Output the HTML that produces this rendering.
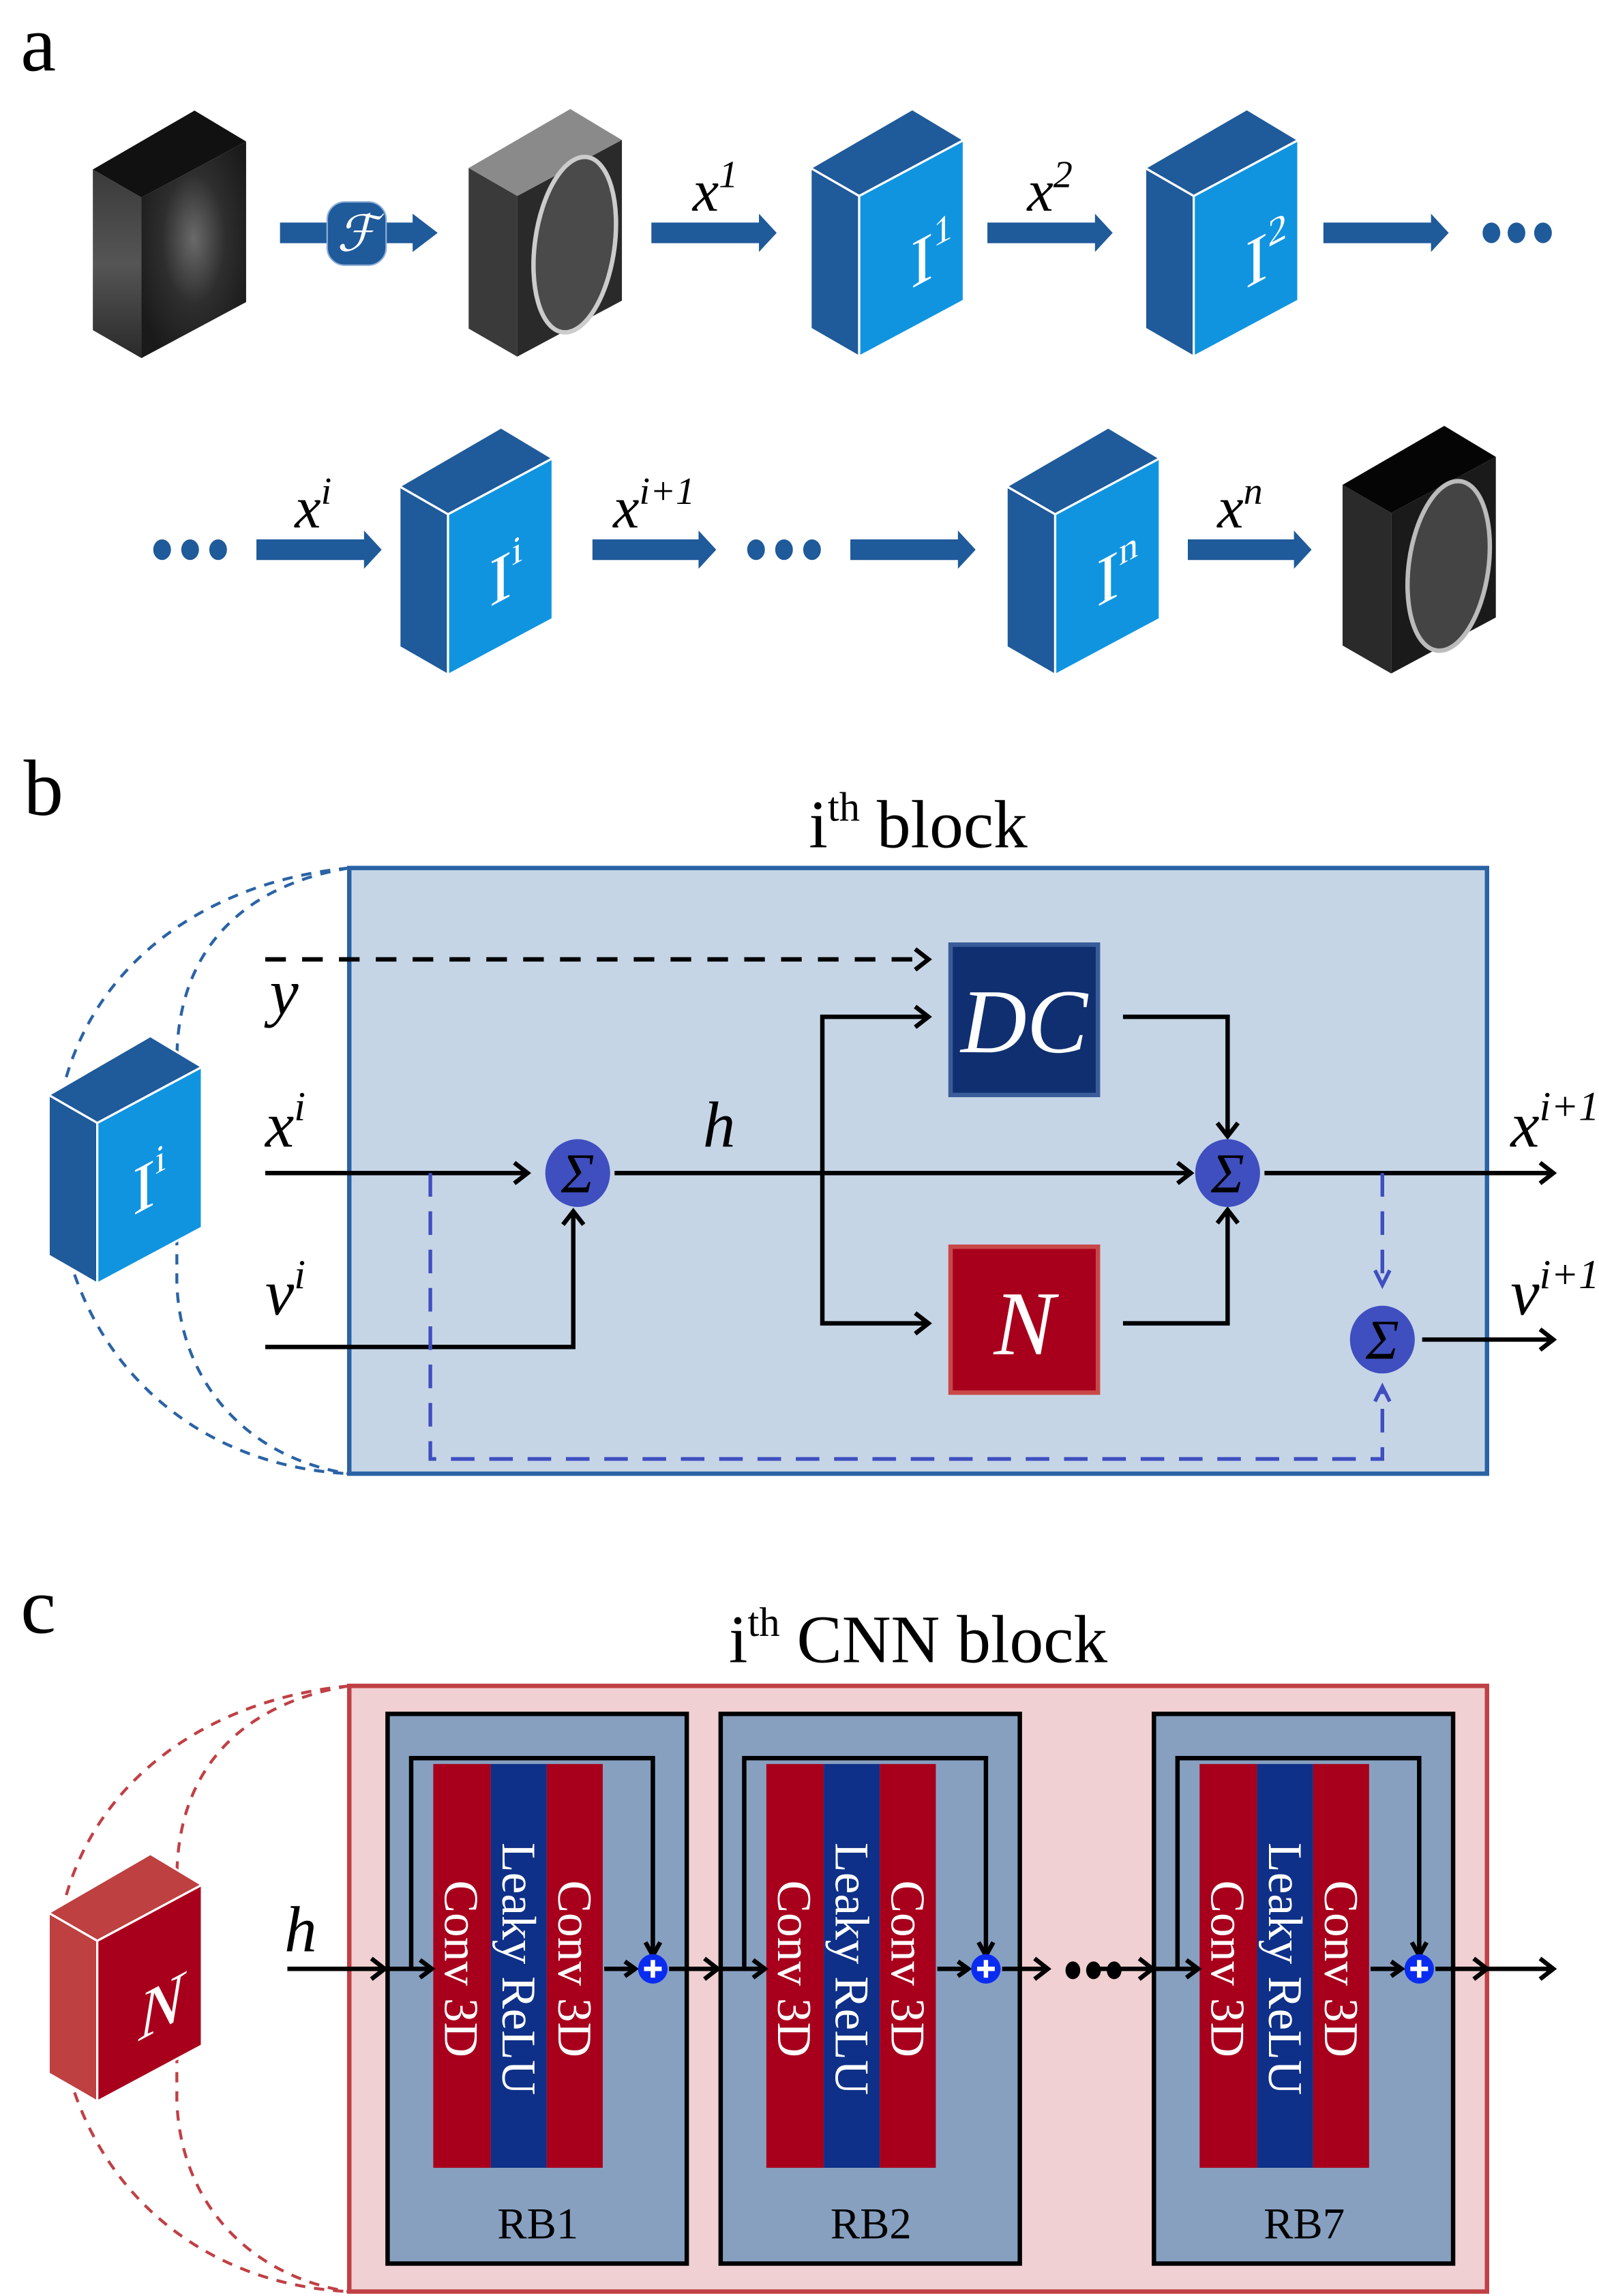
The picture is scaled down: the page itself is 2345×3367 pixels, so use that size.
<!DOCTYPE html>
<html><head><meta charset="utf-8"><style>
html,body{margin:0;padding:0;background:#fff;}
svg{display:block;}
text{font-family:"Liberation Serif",serif;}
</style></head><body>
<svg width="2345" height="3367" viewBox="0 0 1085 1558" preserveAspectRatio="none" xmlns="http://www.w3.org/2000/svg">
<defs>
<g id="bcube">
<polygon points="69,0 0,40 33,59 104,21" fill="#1f5a9a" stroke="#fff" stroke-width="1.5"/>
<polygon points="0,40 33,59 33,168 0,149" fill="#1f5a9a" stroke="#fff" stroke-width="1.5"/>
<polygon points="33,59 104,21 104,130 33,168" fill="#1094e0" stroke="#fff" stroke-width="1.5"/>
</g>
<g id="rcube">
<polygon points="69,0 0,40 33,59 104,21" fill="#be4040" stroke="#fff" stroke-width="1.5"/>
<polygon points="0,40 33,59 33,168 0,149" fill="#be4040" stroke="#fff" stroke-width="1.5"/>
<polygon points="33,59 104,21 104,130 33,168" fill="#a8001c" stroke="#fff" stroke-width="1.5"/>
</g>
<radialGradient id="ks" cx="0.5" cy="0.45" r="0.6"><stop offset="0" stop-color="#6a6a6a"/><stop offset="0.5" stop-color="#2e2e2e"/><stop offset="1" stop-color="#1a1a1a"/></radialGradient>
<linearGradient id="side" x1="0" y1="0" x2="0" y2="1"><stop offset="0" stop-color="#3a3a3a"/><stop offset="0.5" stop-color="#555"/><stop offset="1" stop-color="#2a2a2a"/></linearGradient>
<marker id="ah" viewBox="0 0 12 12" refX="10" refY="6" markerWidth="5" markerHeight="5" orient="auto" markerUnits="userSpaceOnUse" style="overflow:visible">
</marker>
</defs>

<!-- Panel a -->
<text x="14" y="48" font-size="54">a</text>

<!-- k-space cube -->
<g transform="translate(63,75)">
<polygon points="69,0 0,40 33,59 104,21" fill="#111"/>
<polygon points="0,40 33,59 33,168 0,149" fill="url(#side)"/>
<polygon points="33,59 104,21 104,130 33,168" fill="url(#ks)"/>
</g>
<!-- F arrow -->
<polygon points="190,151 280,151 280,145 297,158 280,171 280,165 190,165" fill="#1f5a9a"/>
<rect x="222" y="137" width="40" height="43" rx="12" fill="#1f5a9a" stroke="#8fb0d8" stroke-width="1"/>
<text x="242" y="170" font-size="34" fill="#fff" font-style="italic" text-anchor="middle">ℱ</text>
<!-- brain cube -->
<g transform="translate(318,74)">
<polygon points="69,0 0,40 33,59 104,21" fill="#8a8a8a"/>
<polygon points="0,40 33,59 33,168 0,149" fill="#3a3a3a"/>
<polygon points="33,59 104,21 104,130 33,168" fill="#2a2a2a"/>
<ellipse cx="72" cy="92" rx="27" ry="60" fill="#4a4a4a" stroke="#ccc" stroke-width="3" transform="rotate(8 72 92)"/>
</g>
<!-- row1 arrows -->
<polygon points="442,151 515,151 515,145 527,158 515,171 515,165 442,165" fill="#1f5a9a"/>
<polygon points="670,151 743,151 743,145 755,158 743,171 743,165 670,165" fill="#1f5a9a"/>
<polygon points="898,151 971,151 971,145 983,158 971,171 971,165 898,165" fill="#1f5a9a"/>
<ellipse cx="1012" cy="158" rx="6" ry="7" fill="#1f5a9a"/>
<ellipse cx="1029" cy="158" rx="6" ry="7" fill="#1f5a9a"/>
<ellipse cx="1047" cy="158" rx="6" ry="7" fill="#1f5a9a"/>
<text x="470" y="143" font-size="40" font-style="italic">x<tspan font-size="26" dy="-16">1</tspan></text>
<text x="697" y="143" font-size="40" font-style="italic">x<tspan font-size="26" dy="-16">2</tspan></text>

<use href="#bcube" x="550" y="74"/>
<use href="#bcube" x="777" y="74"/>
<text transform="translate(618,196) skewY(-28)" font-size="46" fill="#fff">I<tspan font-size="26" dy="-20">1</tspan></text>
<text transform="translate(845,196) skewY(-28)" font-size="46" fill="#fff">I<tspan font-size="26" dy="-20">2</tspan></text>

<!-- row2 -->
<ellipse cx="110" cy="373" rx="6" ry="7" fill="#1f5a9a"/>
<ellipse cx="129" cy="373" rx="6" ry="7" fill="#1f5a9a"/>
<ellipse cx="148" cy="373" rx="6" ry="7" fill="#1f5a9a"/>
<polygon points="174,366 247,366 247,360 259,373 247,386 247,380 174,380" fill="#1f5a9a"/>
<polygon points="402,366 474,366 474,360 486,373 474,386 474,380 402,380" fill="#1f5a9a"/>
<ellipse cx="513" cy="373" rx="6" ry="7" fill="#1f5a9a"/>
<ellipse cx="532" cy="373" rx="6" ry="7" fill="#1f5a9a"/>
<ellipse cx="551" cy="373" rx="6" ry="7" fill="#1f5a9a"/>
<polygon points="577,366 650,366 650,360 662,373 650,386 650,380 577,380" fill="#1f5a9a"/>
<polygon points="806,366 878,366 878,360 890,373 878,386 878,380 806,380" fill="#1f5a9a"/>
<text x="200" y="358" font-size="40" font-style="italic">x<tspan font-size="26" dy="-16">i</tspan></text>
<text x="416" y="358" font-size="40" font-style="italic">x<tspan font-size="26" dy="-16">i+1</tspan></text>
<text x="826" y="358" font-size="40" font-style="italic">x<tspan font-size="26" dy="-16">n</tspan></text>
<use href="#bcube" x="271" y="290"/>
<use href="#bcube" x="683" y="290"/>
<text transform="translate(332,412) skewY(-28)" font-size="46" fill="#fff">I<tspan font-size="26" dy="-20">i</tspan></text>
<text transform="translate(744,412) skewY(-28)" font-size="46" fill="#fff">I<tspan font-size="26" dy="-20">n</tspan></text>
<!-- final brain cube -->
<g transform="translate(911,289)">
<polygon points="69,0 0,40 33,59 104,21" fill="#050505"/>
<polygon points="0,40 33,59 33,168 0,149" fill="#2a2a2a"/>
<polygon points="33,59 104,21 104,130 33,168" fill="#1a1a1a"/>
<ellipse cx="72" cy="95" rx="27" ry="58" fill="#444" stroke="#bbb" stroke-width="3" transform="rotate(8 72 95)"/>
</g>

<!-- Panel b -->
<text x="16" y="553" font-size="54">b</text>
<text x="623" y="575" font-size="46" text-anchor="middle">i<tspan font-size="28" dy="-18">th</tspan><tspan dy="18"> block</tspan></text>
<path d="M237,589 C120,600 30,680 38,800 C45,920 130,995 237,1000" fill="none" stroke="#2a63a5" stroke-width="2" stroke-dasharray="7,6"/>
<path d="M237,589 C170,600 120,640 120,720 L120,870 C122,940 170,990 237,1000" fill="none" stroke="#2a63a5" stroke-width="2" stroke-dasharray="7,6"/>
<rect x="237" y="589" width="772" height="411" fill="#c6d5e6" stroke="#2a63a5" stroke-width="3"/>
<use href="#bcube" x="33" y="703"/>
<text transform="translate(90,825) skewY(-28)" font-size="46" fill="#fff">I<tspan font-size="26" dy="-20">i</tspan></text>

<rect x="645" y="641" width="100" height="102" fill="#0f2f70" stroke="#3a5c9a" stroke-width="3"/>
<text x="695" y="714" font-size="62" font-style="italic" fill="#fff" text-anchor="middle">DC</text>
<rect x="645" y="846" width="100" height="99" fill="#a8001c" stroke="#c84848" stroke-width="3"/>
<text x="695" y="919" font-size="62" font-style="italic" fill="#fff" text-anchor="middle">N</text>

<g stroke="#000" stroke-width="3" fill="none" stroke-linejoin="miter">
<line x1="180" y1="651" x2="628" y2="651" stroke-dasharray="14,11"/>
<polyline points="621,644 630,651 621,658"/>
<line x1="180" y1="796" x2="356" y2="796"/>
<polyline points="349,789 358,796 349,803"/>
<polyline points="180,914 389,914 389,823"/>
<polyline points="382,831 389,822 396,831"/>
<line x1="417" y1="796" x2="806" y2="796"/>
<polyline points="799,789 808,796 799,803"/>
<polyline points="628,690 558,690 558,898 628,898"/>
<polyline points="621,683 630,690 621,697"/>
<polyline points="621,891 630,898 621,905"/>
<polyline points="762,690 833,690 833,770"/>
<polyline points="826,762 833,771 840,762"/>
<polyline points="762,898 833,898 833,822"/>
<polyline points="826,830 833,821 840,830"/>
<line x1="858" y1="796" x2="1052" y2="796"/>
<polyline points="1045,789 1054,796 1045,803"/>
<line x1="965" y1="909" x2="1052" y2="909"/>
<polyline points="1045,902 1054,909 1045,916"/>
</g>
<g stroke="#3f4fc0" stroke-width="2.5" fill="none">
<polyline points="292,796 292,990 938,990 938,942" stroke-dasharray="16,10"/>
<polyline points="933,951 938,941 943,951"/>
<line x1="938" y1="796" x2="938" y2="871" stroke-dasharray="16,10"/>
<polyline points="933,862 938,872 943,862"/>
</g>
<g fill="#3f4fc0">
<ellipse cx="392" cy="796" rx="22" ry="23"/>
<ellipse cx="833" cy="796" rx="22" ry="23"/>
<ellipse cx="938" cy="909" rx="22" ry="23"/>
</g>
<g font-size="38" font-style="italic" text-anchor="middle">
<text x="392" y="809">Σ</text>
<text x="833" y="809">Σ</text>
<text x="938" y="922">Σ</text>
</g>
<g font-size="44" font-style="italic">
<text x="183" y="688">y</text>
<text x="180" y="778">x<tspan font-size="28" dy="-18">i</tspan></text>
<text x="180" y="892">v<tspan font-size="28" dy="-18">i</tspan></text>
<text x="477" y="778">h</text>
<text x="1025" y="778">x<tspan font-size="28" dy="-18">i+1</tspan></text>
<text x="1025" y="892">v<tspan font-size="28" dy="-18">i+1</tspan></text>
</g>

<!-- Panel c -->
<text x="14" y="1108" font-size="54">c</text>
<text x="623" y="1128" font-size="46" text-anchor="middle">i<tspan font-size="28" dy="-18">th</tspan><tspan dy="18"> CNN block</tspan></text>
<path d="M237,1144 C120,1155 30,1235 38,1355 C45,1475 130,1550 237,1555" fill="none" stroke="#c04045" stroke-width="2" stroke-dasharray="7,6"/>
<path d="M237,1144 C170,1155 120,1195 120,1275 L120,1425 C122,1495 170,1545 237,1555" fill="none" stroke="#c04045" stroke-width="2" stroke-dasharray="7,6"/>
<rect x="237" y="1144" width="772" height="411" fill="#f0d0d2" stroke="#c04045" stroke-width="3"/>
<use href="#rcube" x="33" y="1258"/>
<text transform="translate(94,1385) skewY(-28)" font-size="46" fill="#fff" font-style="italic">N</text>

<g id="rb1">
<rect x="263" y="1163" width="203" height="373" fill="#87a0c0" stroke="#000" stroke-width="3"/>
<rect x="294" y="1197" width="39" height="274" fill="#a8001c"/>
<rect x="333" y="1197" width="38" height="274" fill="#0f3088"/>
<rect x="371" y="1197" width="38" height="274" fill="#a8001c"/>
</g>
<g transform="translate(226,0)">
<rect x="263" y="1163" width="203" height="373" fill="#87a0c0" stroke="#000" stroke-width="3"/>
<rect x="294" y="1197" width="39" height="274" fill="#a8001c"/>
<rect x="333" y="1197" width="38" height="274" fill="#0f3088"/>
<rect x="371" y="1197" width="38" height="274" fill="#a8001c"/>
</g>
<g transform="translate(520,0)">
<rect x="263" y="1163" width="203" height="373" fill="#87a0c0" stroke="#000" stroke-width="3"/>
<rect x="294" y="1197" width="39" height="274" fill="#a8001c"/>
<rect x="333" y="1197" width="38" height="274" fill="#0f3088"/>
<rect x="371" y="1197" width="38" height="274" fill="#a8001c"/>
</g>

<g fill="#fff" font-size="33" text-anchor="middle">
<text transform="translate(302,1336) rotate(90)">Conv 3D</text>
<text transform="translate(341,1336) rotate(90)">Leaky ReLU</text>
<text transform="translate(379,1336) rotate(90)">Conv 3D</text>
<text transform="translate(528,1336) rotate(90)">Conv 3D</text>
<text transform="translate(567,1336) rotate(90)">Leaky ReLU</text>
<text transform="translate(605,1336) rotate(90)">Conv 3D</text>
<text transform="translate(822,1336) rotate(90)">Conv 3D</text>
<text transform="translate(861,1336) rotate(90)">Leaky ReLU</text>
<text transform="translate(899,1336) rotate(90)">Conv 3D</text>
</g>
<g font-size="30" text-anchor="middle">
<text x="365" y="1519">RB1</text>
<text x="591" y="1519">RB2</text>
<text x="885" y="1519">RB7</text>
</g>

<g stroke="#000" stroke-width="3" fill="none">
<!-- input -->
<line x1="195" y1="1336" x2="260" y2="1336"/>
<polyline points="252,1329 261,1336 252,1343"/>
<g id="rbw">
<line x1="263" y1="1336" x2="292" y2="1336"/>
<polyline points="285,1330 293,1336 285,1342"/>
<polyline points="279,1336 279,1193 443,1193 443,1325"/>
<polyline points="438,1318 443,1327 448,1318"/>
<line x1="410" y1="1336" x2="430" y2="1336"/>
<polyline points="424,1331 431,1336 424,1341"/>
</g>
<g transform="translate(226,0)">
<line x1="263" y1="1336" x2="292" y2="1336"/>
<polyline points="285,1330 293,1336 285,1342"/>
<polyline points="279,1336 279,1193 443,1193 443,1325"/>
<polyline points="438,1318 443,1327 448,1318"/>
<line x1="410" y1="1336" x2="430" y2="1336"/>
<polyline points="424,1331 431,1336 424,1341"/>
</g>
<g transform="translate(520,0)">
<line x1="263" y1="1336" x2="292" y2="1336"/>
<polyline points="285,1330 293,1336 285,1342"/>
<polyline points="279,1336 279,1193 443,1193 443,1325"/>
<polyline points="438,1318 443,1327 448,1318"/>
<line x1="410" y1="1336" x2="430" y2="1336"/>
<polyline points="424,1331 431,1336 424,1341"/>
</g>
<line x1="454" y1="1336" x2="486" y2="1336"/>
<polyline points="478,1329 487,1336 478,1343"/>
<line x1="680" y1="1336" x2="710" y2="1336"/>
<polyline points="702,1329 711,1336 702,1343"/>
<line x1="740" y1="1336" x2="780" y2="1336"/>
<line x1="770" y1="1336" x2="780" y2="1336"/>
<polyline points="773,1329 782,1336 773,1343"/>
<line x1="974" y1="1336" x2="1052" y2="1336"/>
<polyline points="1000,1329 1009,1336 1000,1343"/>
<polyline points="1045,1329 1054,1336 1045,1343"/>
</g>
<g fill="#000">
<ellipse cx="728" cy="1337" rx="5" ry="6"/>
<ellipse cx="742" cy="1337" rx="5" ry="6"/>
<ellipse cx="756" cy="1337" rx="5" ry="6"/>
</g>
<g>
<circle cx="443" cy="1336" r="10" fill="#0a2cf0"/>
<circle cx="669" cy="1336" r="10" fill="#0a2cf0"/>
<circle cx="963" cy="1336" r="10" fill="#0a2cf0"/>
<g stroke="#fff" stroke-width="3">
<line x1="437" y1="1336" x2="449" y2="1336"/><line x1="443" y1="1330" x2="443" y2="1342"/>
<line x1="663" y1="1336" x2="675" y2="1336"/><line x1="669" y1="1330" x2="669" y2="1342"/>
<line x1="957" y1="1336" x2="969" y2="1336"/><line x1="963" y1="1330" x2="963" y2="1342"/>
</g>
</g>
<text x="193" y="1324" font-size="44" font-style="italic">h</text>
</svg>
</body></html>
